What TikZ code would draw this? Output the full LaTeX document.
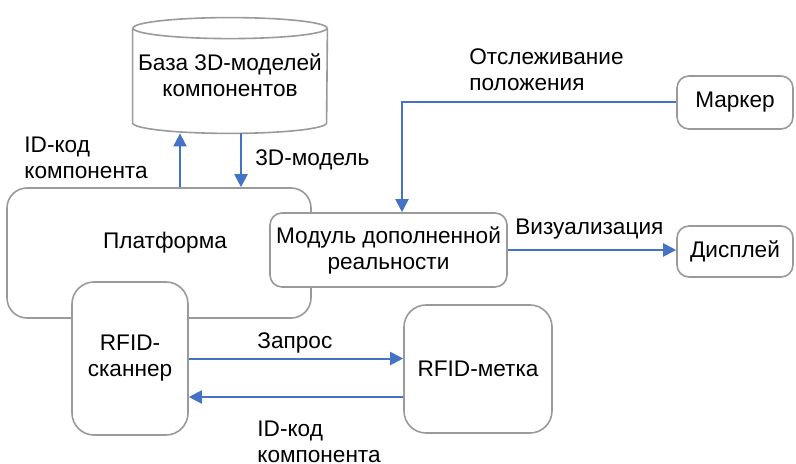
\documentclass[tikz,border=0pt]{standalone}
\usepackage{fontspec}
\setmainfont{Liberation Sans}
\usetikzlibrary{arrows.meta}
\definecolor{edge_gray}{HTML}{9A9A9A}
\definecolor{flow_blue}{HTML}{4472C4}
\tikzstyle{box}=[draw=edge_gray, line width=0.8pt, fill=white, rounded corners=6pt, align=center, inner sep=0pt]
\tikzstyle{cyl}=[draw=edge_gray, line width=0.8pt]
\tikzstyle{arrow}=[-{Triangle[length=6.5pt,width=6.5pt]}, draw=flow_blue, line width=1pt]
\tikzstyle{lbl}=[anchor=west, align=left, inner sep=0pt]

\begin{document}
\begin{tikzpicture}[x=0.5pt,y=-0.5pt,font=\fontsize{11.3}{13}\selectfont]
\useasboundingbox (0,0) rectangle (796,464);

% database cylinder
\node[inner sep=0pt, minimum width=97pt, minimum height=57.5pt, align=center] (db) at (230,75.5) {База 3D-моделей\\компонентов};
\draw[cyl] ([yshift=-5.25pt]db.north west) -- ([yshift=5.25pt]db.south west)
  arc[start angle=180, end angle=360, x radius=48.5pt, y radius=5.25pt] -- ([yshift=-5.25pt]db.north east);
\draw[cyl] ([yshift=-5.25pt]db.north) ellipse [x radius=48.5pt, y radius=5.25pt];

% platform with the scanner on top of it
\node[box, rounded corners=10pt, minimum width=152pt, minimum height=65pt] (platform) at (159,253) {};
\node (platform_text) at (165,243) {Платформа};
\node[box, rounded corners=11pt, minimum width=58pt, minimum height=76.5pt] (scanner) at (130,358.5) {RFID-\\сканнер};
\node[box, rounded corners=11pt, minimum width=74pt, minimum height=64pt] (tag) at (478,369) {RFID-метка};

\node[box, minimum width=118.5pt, minimum height=37pt] (modul) at (388.5,250) {Модуль дополненной\\реальности};
\node[box, minimum width=58pt, minimum height=26.5pt] (marker) at (735,102.5) {Маркер};
\node[box, minimum width=58pt, minimum height=25.5pt] (display) at (735,251.5) {Дисплей};

% connectors
\draw[arrow] ([xshift=-25pt]db.south |- platform.north) -- ([xshift=-25pt]db.south);
\draw[arrow] ([xshift=5.5pt]db.south) -- ([xshift=5.5pt]db.south |- platform.north);
\draw[arrow] (marker.west) -| ([xshift=6.75pt]modul.north);
\draw[arrow] (modul.east) -- (modul.east -| display.west);
\draw[arrow] (scanner.east) -- (scanner.east -| tag.west);
\draw[arrow] ([yshift=-14pt]tag.west) -- ([yshift=-14pt]tag.west -| scanner.east);

% labels
\node[lbl] (id_up) at (24,158) {ID-код\\компонента};
\node[lbl] (model_down) at (255,160) {3D-модель};
\node[lbl] (tracking) at (469,70) {Отслеживание\\положения};
\node[lbl] (visual) at (515,229) {Визуализация};
\node[lbl] (request) at (257,343) {Запрос};
\node[lbl] (id_back) at (257,441.5) {ID-код\\компонента};

\end{tikzpicture}
\end{document}
